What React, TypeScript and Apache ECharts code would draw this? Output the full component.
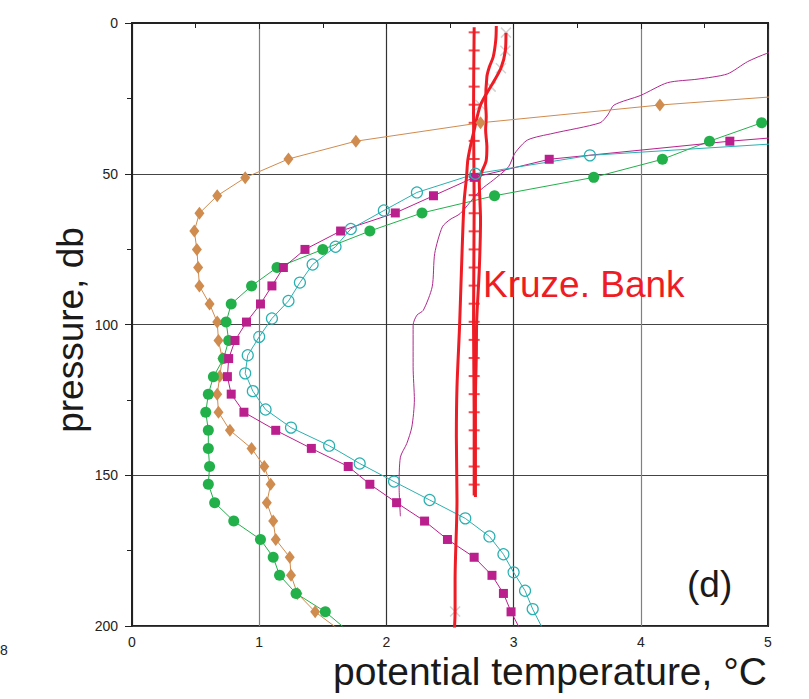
import React, { useEffect, useRef } from "react";
import * as echarts from "echarts";

// ---- axis ticks ----
const xTickValues = [0, 1, 2, 3, 4, 5];
const yTickValues = [0, 50, 100, 150, 200];

// ---- profiles: [potential temperature °C, pressure db] ----
const orangeProfile: [number, number][] = [
  [6.1, 21.2], [4.15, 27.2], [2.74, 33.1], [1.76, 39.2], [1.23, 45.1], [0.89, 51.3],
  [0.67, 57.3], [0.53, 63.1], [0.49, 69.0], [0.51, 75.1], [0.52, 81.1], [0.53, 87.2],
  [0.61, 93.2], [0.67, 99.2], [0.68, 105.3], [0.71, 111.3], [0.69, 117.2], [0.67, 123.1],
  [0.68, 129.1], [0.77, 135.1], [0.94, 141.1], [1.04, 147.1], [1.09, 153.0], [1.06, 159.1],
  [1.11, 165.2], [1.13, 171.3], [1.24, 177.2], [1.25, 183.2], [1.30, 189.2], [1.44, 195.3],
  [1.62, 201.0],
];

const greenProfile: [number, number][] = [
  [4.95, 33.1], [4.54, 39.2], [4.17, 45.2], [3.63, 51.2], [2.85, 57.3], [2.28, 63.0],
  [1.87, 69.0], [1.50, 75.1], [1.14, 81.1], [0.94, 87.2], [0.78, 93.2], [0.74, 99.2],
  [0.76, 105.3], [0.72, 111.3], [0.64, 117.3], [0.60, 123.1], [0.58, 129.1], [0.60, 135.1],
  [0.60, 141.1], [0.61, 147.1], [0.60, 153.0], [0.65, 159.1], [0.80, 165.2], [1.01, 171.3],
  [1.11, 177.2], [1.16, 183.2], [1.29, 189.2], [1.52, 195.3], [1.68, 201.0],
];

const magentaProfile: [number, number][] = [
  [6.5, 33.1], [4.70, 39.2], [3.28, 45.2], [2.69, 51.2], [2.37, 57.3], [2.07, 63.0],
  [1.64, 69.0], [1.36, 75.1], [1.19, 81.1], [1.10, 87.2], [1.01, 93.2], [0.90, 99.2],
  [0.81, 105.3], [0.76, 111.3], [0.75, 117.3], [0.78, 123.1], [0.88, 129.1], [1.13, 135.1],
  [1.41, 141.1], [1.70, 147.1], [1.87, 153.0], [2.08, 159.1], [2.30, 165.2], [2.48, 171.3],
  [2.69, 177.2], [2.83, 183.2], [2.92, 189.2], [2.98, 195.3], [3.05, 201.0],
];

const cyanProfile: [number, number][] = [
  [5.87, 37.9], [3.60, 43.9], [2.70, 50.0], [2.24, 56.2], [1.98, 62.2], [1.72, 68.3],
  [1.60, 74.2], [1.42, 80.1], [1.32, 86.1], [1.23, 92.2], [1.10, 98.0], [1.00, 104.1],
  [0.91, 110.2], [0.89, 116.2], [0.95, 122.1], [1.05, 128.2], [1.25, 134.2], [1.55, 140.2],
  [1.79, 146.1], [2.06, 152.1], [2.34, 158.2], [2.62, 164.3], [2.81, 170.3], [2.92, 176.2],
  [3.00, 182.2], [3.09, 188.3], [3.15, 194.4], [3.22, 200.2],
];

const thinMagentaProfile: [number, number][] = [
  [5.15, 8.0], [4.99, 10.1], [4.84, 12.8], [4.68, 16.9], [4.45, 18.6], [4.21, 19.8],
  [4.0, 24.0], [3.79, 27.2], [3.74, 30.5], [3.68, 33.1], [3.31, 36.6], [3.11, 38.8],
  [3.01, 43.2], [2.96, 47.7], [2.84, 52.1], [2.74, 55.4], [2.58, 63.2], [2.50, 65.2],
  [2.44, 67.6], [2.38, 76.4], [2.36, 87.5], [2.29, 95.3], [2.24, 96.9], [2.21, 100.2],
  [2.21, 114.0], [2.22, 125.0], [2.20, 134.0], [2.16, 139.5], [2.11, 144.0], [2.10, 154.0],
  [2.11, 163.6],
];

// Kruze. Bank stations (thick red)
const redTickedProfile: [number, number][] = [
  [2.69, 1.4], [2.685, 30], [2.69, 60], [2.685, 100], [2.69, 130], [2.69, 156.7],
];
const redTickPressures = [
  3.1, 9.1, 15.1, 21.1, 27.1, 33.1, 39.1, 45.1, 51.1, 57.1, 63.1, 69.1, 75.1,
  81.1, 87.1, 93.1, 99.1, 105.1, 111.1, 117.1, 123.1, 129.1, 135.1, 141.1, 147.1, 153.1,
];
const redTickTemperature = 2.69;

const redWavyProfile: [number, number][] = [
  [2.864, 1.0], [2.86, 5.6], [2.84, 11.2], [2.81, 14.5], [2.79, 17.8], [2.78, 26.7],
  [2.785, 31.1], [2.78, 35.5], [2.79, 41.0], [2.785, 45.5], [2.75, 49.3], [2.73, 52.0],
  [2.74, 65.4], [2.73, 82.0], [2.71, 98.6], [2.707, 110], [2.70, 125], [2.70, 145], [2.70, 157.2],
];

const redLeftProfile: [number, number][] = [
  [2.94, 3.2], [2.935, 9.2], [2.90, 15.0], [2.82, 21.1], [2.74, 27.2], [2.69, 35.5],
  [2.66, 41.0], [2.64, 45.5], [2.63, 51.0], [2.61, 59.8], [2.59, 82.0], [2.575, 100.8],
  [2.555, 120.7], [2.55, 137.3], [2.555, 158.3], [2.54, 185.0], [2.54, 195.2], [2.535, 201],
];
const grayCrossPoints: [number, number][] = [
  [2.94, 3.2], [2.935, 9.2], [2.90, 15.0], [2.82, 21.1], [2.74, 27.2], [2.54, 195.2],
];

const FONT = "'Liberation Sans', Arial, Helvetica, sans-serif";

export default function App() {
  const ref = useRef<HTMLDivElement>(null);

  useEffect(() => {
    if (!ref.current) return;
    const chart = echarts.init(ref.current, undefined, { renderer: "svg" });

    const red = "#EE1C24";

    const option: any = {
      animation: false,
      backgroundColor: "#ffffff",
      grid: {
        left: 132,
        right: 41,
        top: 23,
        bottom: 73,
        show: true,
        borderColor: "#222",
        borderWidth: 2,
        backgroundColor: "transparent",
        outerBoundsMode: "none",
      },
      xAxis: {
        type: "value",
        min: xTickValues[0],
        max: xTickValues[xTickValues.length - 1],
        interval: 1,
        axisLine: { show: true, lineStyle: { color: "#222", width: 2 } },
        axisTick: { show: true, length: 6, lineStyle: { color: "#222", width: 1 } },
        minorTick: { show: true, splitNumber: 2, length: 5, lineStyle: { color: "#222", width: 1 } },
        axisLabel: {
          margin: 9,
          fontSize: 14,
          lineHeight: 14,
          color: "#222",
          fontFamily: FONT,
          formatter: (v: number) => (xTickValues.includes(v) ? String(v) : ""),
        },
        splitLine: {
          show: true,
          lineStyle: { color: ["#333", "#808080", "#333", "#333", "#808080", "#333"], width: 1.2 },
        },
      },
      yAxis: {
        type: "value",
        inverse: true,
        min: yTickValues[0],
        max: yTickValues[yTickValues.length - 1],
        interval: 50,
        axisLine: { show: true, lineStyle: { color: "#222", width: 2 } },
        axisTick: { show: true, length: 7, lineStyle: { color: "#222", width: 1 } },
        minorTick: { show: true, splitNumber: 2, length: 5, lineStyle: { color: "#222", width: 1 } },
        axisLabel: {
          margin: 14,
          fontSize: 14,
          color: "#222",
          fontFamily: FONT,
          formatter: (v: number) => (yTickValues.includes(v) ? String(v) : ""),
        },
        splitLine: { show: true, lineStyle: { color: "#444", width: 1.2 } },
      },
      graphic: [
        {
          type: "text",
          x: 70,
          y: 330,
          rotation: Math.PI / 2,
          style: {
            text: "pressure, db",
            font: `37px ${FONT}`,
            fill: "#1a1a1a",
            textAlign: "center",
            textVerticalAlign: "middle",
          },
        },
        {
          type: "text",
          x: 767,
          y: 671,
          style: {
            text: "potential temperature, °C",
            font: `39px ${FONT}`,
            lineHeight: 36,
            fill: "#1a1a1a",
            textAlign: "right",
            textVerticalAlign: "middle",
          },
        },
        {
          type: "text",
          x: 483,
          y: 284,
          z: 100,
          style: {
            text: "Kruze. Bank",
            font: `37px ${FONT}`,
            fill: red,
            textAlign: "left",
            textVerticalAlign: "middle",
          },
        },
        {
          type: "text",
          x: 687,
          y: 584,
          z: 100,
          style: {
            text: "(d)",
            font: `37px ${FONT}`,
            fill: "#1a1a1a",
            textAlign: "left",
            textVerticalAlign: "middle",
          },
        },
        {
          type: "text",
          x: 0,
          y: 650,
          style: {
            text: "8",
            font: `14px ${FONT}`,
            fill: "#222",
            textAlign: "left",
            textVerticalAlign: "middle",
          },
        },
      ],
      series: [
        {
          name: "thin",
          type: "line",
          data: thinMagentaProfile,
          showSymbol: false,
          smooth: 0.25,
          lineStyle: { color: "#B0288F", width: 1 },
          clip: true,
        },
        {
          name: "orange",
          type: "line",
          data: orangeProfile,
          symbol: "diamond",
          symbolSize: [10, 13],
          itemStyle: { color: "#D08B4E" },
          lineStyle: { color: "#D08B4E", width: 1 },
          clip: true,
        },
        {
          name: "green",
          type: "line",
          data: greenProfile,
          symbol: "circle",
          symbolSize: 11,
          itemStyle: { color: "#22B04B" },
          lineStyle: { color: "#22B04B", width: 1 },
          clip: true,
        },
        {
          name: "magenta",
          type: "line",
          data: magentaProfile,
          symbol: "rect",
          symbolSize: 9,
          itemStyle: { color: "#BA1F8D" },
          lineStyle: { color: "#BA1F8D", width: 1 },
          clip: true,
        },
        {
          name: "cyan",
          type: "line",
          data: cyanProfile,
          symbol: "circle",
          symbolSize: 11,
          itemStyle: { color: "rgba(255,255,255,0)", borderColor: "#2AB0B0", borderWidth: 1.2 },
          lineStyle: { color: "#2AB0B0", width: 1 },
          clip: true,
        },
        {
          name: "redLeft",
          type: "line",
          data: redLeftProfile,
          showSymbol: false,
          smooth: 0.3,
          lineStyle: { color: red, width: 3 },
          clip: true,
        },
        {
          name: "grayCross",
          type: "scatter",
          data: grayCrossPoints,
          symbol: "path://M0,0L10,10M10,0L0,10",
          symbolSize: 10,
          itemStyle: { color: "none", borderColor: "#C8C8C8", borderWidth: 1.5 },
          clip: true,
        },
        {
          name: "redWavy",
          type: "line",
          data: redWavyProfile,
          showSymbol: false,
          smooth: 0.3,
          lineStyle: { color: red, width: 3 },
          clip: true,
        },
        {
          name: "redTicked",
          type: "line",
          data: redTickedProfile,
          showSymbol: false,
          smooth: 0.3,
          lineStyle: { color: red, width: 3 },
          clip: true,
        },
        {
          name: "redTicks",
          type: "scatter",
          data: redTickPressures.map((p) => [redTickTemperature, p]),
          symbol: "rect",
          symbolSize: [11, 2],
          itemStyle: { color: red },
          clip: true,
        },
      ],
    };

    chart.setOption(option);
    return () => chart.dispose();
  }, []);

  return (
    <div
      ref={ref}
      style={{ position: "fixed", left: 0, top: 0, width: 809, height: 699, background: "#fff" }}
    />
  );
}
